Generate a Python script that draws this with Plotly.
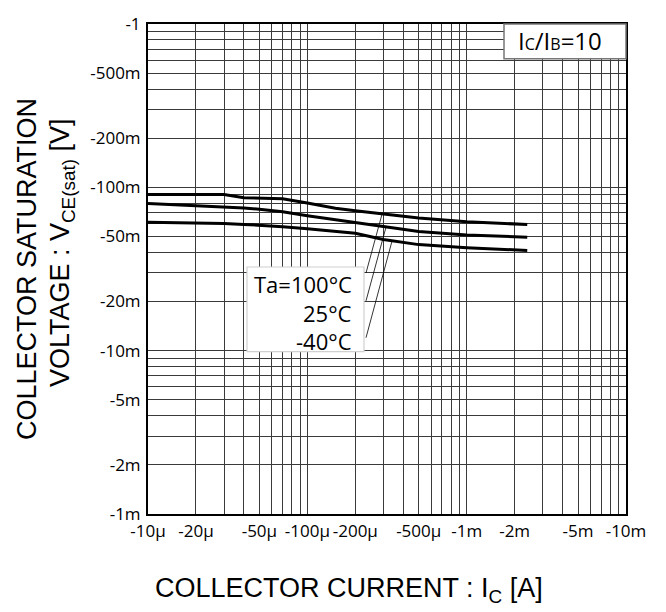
import plotly.graph_objects as go

# Collector current |Ic| [A] (PNP: plotted values are negative on the chart)
ic = [10e-6, 20e-6, 30e-6, 40e-6, 50e-6, 70e-6, 100e-6, 150e-6, 200e-6,
      300e-6, 500e-6, 1e-3, 2e-3, 2.4e-3]
# |VCE(sat)| [V] for each ambient temperature
vce_100 = [0.0903, 0.0903, 0.0903, 0.0863, 0.0857, 0.0851, 0.0802, 0.0745,
           0.0719, 0.0689, 0.0649, 0.0616, 0.0597, 0.0592]
vce_25 = [0.0795, 0.0771, 0.0759, 0.0747, 0.0734, 0.0709, 0.0670, 0.0633,
          0.0607, 0.0577, 0.0537, 0.0511, 0.0498, 0.0495]
vce_m40 = [0.0612, 0.0607, 0.0601, 0.0593, 0.0587, 0.0574, 0.0558, 0.0535,
           0.0524, 0.0479, 0.0446, 0.0427, 0.0414, 0.0411]

x_tickvals = [10e-6, 20e-6, 50e-6, 100e-6, 200e-6, 500e-6, 1e-3, 2e-3, 5e-3, 10e-3]
x_ticktext = ["-10μ", "-20μ", "-50μ", "-100μ", "-200μ", "-500μ", "-1m", "-2m", "-5m", "-10m"]
y_tickvals = [1, 0.5, 0.2, 0.1, 0.05, 0.02, 0.01, 0.005, 0.002, 0.001]
y_ticktext = ["-1", "-500m", "-200m", "-100m", "-50m", "-20m", "-10m", "-5m", "-2m", "-1m"]

# full 1..9 grid per decade
x_grid = [m * 10 ** e for e in (-5, -4, -3) for m in range(1, 10)] + [1e-2]
y_grid = [m * 10 ** e for e in (-3, -2, -1) for m in range(1, 10)] + [1.0]


def labels(vals, tv, tt):
    out = []
    for v in vals:
        lab = ""
        for a, b in zip(tv, tt):
            if abs(v - a) / a < 1e-6:
                lab = b
        out.append(lab)
    return out


fig = go.Figure()
for ys in (vce_100, vce_25, vce_m40):
    fig.add_trace(go.Scatter(x=ic, y=ys, mode="lines",
                             line=dict(color="black", width=3),
                             showlegend=False, hoverinfo="skip"))

W, H = 666, 612
L, R, T, B = 148, 40, 22, 98
pw, ph = W - L - R, H - T - B


def px(x):
    return (x - L) / pw


def py(y):
    return (H - B - y) / ph


tick_font = dict(family="Open Sans, Liberation Sans, sans-serif", size=17, color="black")
fig.update_xaxes(type="log", range=[-5, -2], tickvals=x_grid,
                 ticktext=labels(x_grid, x_tickvals, x_ticktext),
                 showgrid=True, gridcolor="#3a3a3a", gridwidth=1,
                 showline=True, linecolor="black", linewidth=2, mirror=True,
                 ticks="", tickfont=tick_font, ticklabelstandoff=1, zeroline=False)
fig.update_yaxes(type="log", range=[-3, 0], tickvals=y_grid,
                 ticktext=labels(y_grid, y_tickvals, y_ticktext),
                 showgrid=True, gridcolor="#3a3a3a", gridwidth=1,
                 showline=True, linecolor="black", linewidth=2, mirror=True,
                 ticks="", tickfont=tick_font, ticklabelstandoff=2, zeroline=False)

shapes = [
    # Ic/IB box
    dict(type="rect", xref="paper", yref="paper", x0=px(504), x1=px(626), y0=py(57), y1=py(22),
         fillcolor="white", line=dict(color="#777", width=1.5), layer="above"),
    # Ta label box
    dict(type="rect", xref="paper", yref="paper", x0=px(247), x1=px(364), y0=py(351), y1=py(266),
         fillcolor="white", line=dict(color="#d0d0d0", width=1.2), layer="above"),
    # leader lines
    dict(type="line", xref="paper", yref="paper", x0=px(366), y0=py(272), x1=px(382), y1=py(213),
         line=dict(color="black", width=0.8), layer="above"),
    dict(type="line", xref="paper", yref="paper", x0=px(366), y0=py(300), x1=px(386), y1=py(226),
         line=dict(color="black", width=0.8), layer="above"),
    dict(type="line", xref="paper", yref="paper", x0=px(366), y0=py(337), x1=px(392), y1=py(240),
         line=dict(color="black", width=0.8), layer="above"),
]

lab_font = dict(family="Open Sans, Liberation Sans, sans-serif", size=22, color="black")
box_font = dict(family="Open Sans, Liberation Sans, sans-serif", size=24, color="black")
title_font = dict(family="Liberation Sans, Arial, sans-serif", size=27, color="black")
annotations = [
    dict(xref="paper", yref="paper", x=px(560), y=py(39), xanchor="center", yanchor="middle",
         text="I<span style='font-size:16px'>C</span>/I<span style='font-size:16px'>B</span>=10",
         showarrow=False, font=box_font),
    dict(xref="paper", yref="paper", x=px(354), y=py(283), xanchor="right", yanchor="middle",
         text="Ta=100°C", showarrow=False, font=lab_font),
    dict(xref="paper", yref="paper", x=px(354), y=py(312), xanchor="right", yanchor="middle",
         text="25°C", showarrow=False, font=lab_font),
    dict(xref="paper", yref="paper", x=px(354), y=py(340), xanchor="right", yanchor="middle",
         text="-40°C", showarrow=False, font=lab_font),
    dict(xref="paper", yref="paper", x=px(349), y=py(590), xanchor="center", yanchor="middle",
         text="COLLECTOR CURRENT : I<sub>C</sub> [A]", showarrow=False, font=title_font),
    dict(xref="paper", yref="paper", x=px(27), y=py(268), xanchor="center", yanchor="middle",
         text="COLLECTOR SATURATION", textangle=-90, showarrow=False, font=title_font),
    dict(xref="paper", yref="paper", x=px(62), y=py(252), xanchor="center", yanchor="middle",
         text="VOLTAGE : V<sub>CE(sat)</sub> [V]", textangle=-90, showarrow=False, font=title_font),
]

fig.update_layout(width=W, height=H, margin=dict(l=L, r=R, t=T, b=B, pad=0),
                  plot_bgcolor="white", paper_bgcolor="white",
                  shapes=shapes, annotations=annotations, showlegend=False)

fig.write_html("out.html", config={"displayModeBar": False},
               post_script="document.body.style.margin='0';document.body.style.padding='0';")
